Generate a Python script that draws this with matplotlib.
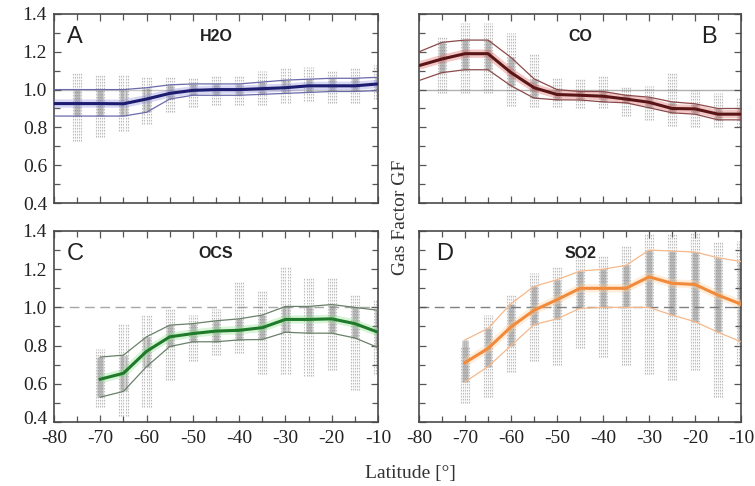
import matplotlib
matplotlib.use("Agg")
import matplotlib.pyplot as plt
import matplotlib.transforms as mtransforms
import numpy as np

# latitudes of the scatter columns
lat_a = [-75, -70, -65, -60, -55, -50, -45, -40, -35, -30, -25, -20, -15, -10]
lat_b = [-75, -70, -65, -60, -55, -50, -45, -40, -35, -30, -25, -20, -15, -10]
lat_c = [-70, -65, -60, -55, -50, -45, -40, -35, -30, -25, -20, -15, -10]
lat_d = [-70, -65, -60, -55, -50, -45, -40, -35, -30, -25, -20, -15, -10]

# scatter column ranges (min / max of the grey points)
lo_a = [0.73, 0.75, 0.78, 0.82, 0.88, 0.91, 0.92, 0.92, 0.92, 0.93, 0.94, 0.93, 0.93, 0.95]
hi_a = [1.09, 1.08, 1.08, 1.07, 1.07, 1.06, 1.07, 1.07, 1.10, 1.12, 1.12, 1.10, 1.12, 1.13]
lo_b = [0.98, 0.98, 0.98, 0.915, 0.91, 0.91, 0.90, 0.90, 0.86, 0.84, 0.81, 0.80, 0.80, 0.80]
hi_b = [1.28, 1.35, 1.35, 1.30, 1.19, 1.06, 1.06, 1.07, 1.02, 1.02, 1.09, 1.00, 0.98, 0.96]
lo_c = [0.48, 0.43, 0.48, 0.62, 0.72, 0.75, 0.76, 0.65, 0.65, 0.64, 0.67, 0.57, 0.65]
hi_c = [0.78, 0.92, 0.96, 0.99, 0.96, 0.99, 1.14, 1.09, 1.21, 1.16, 1.16, 1.07, 1.04]
lo_d = [0.50, 0.53, 0.66, 0.72, 0.70, 0.79, 0.74, 0.70, 0.65, 0.62, 0.67, 0.53, 0.70]
hi_d = [0.80, 0.96, 1.07, 1.18, 1.21, 1.27, 1.27, 1.32, 1.39, 1.39, 1.39, 1.35, 1.35]

# mean and +/- std lines
line_lat_ab = [-80, -75, -70, -65, -60, -55, -50, -45, -40, -35, -30, -25, -20, -15, -10]
line_lat_cd = [-70, -65, -60, -55, -50, -45, -40, -35, -30, -25, -20, -15, -10]

mean_a = [0.926, 0.926, 0.926, 0.925, 0.95, 0.98, 0.996, 1.0, 1.0, 1.005, 1.01, 1.02, 1.02, 1.02, 1.03]
up_a = [1.0, 1.0, 1.0, 1.0, 1.01, 1.025, 1.03, 1.03, 1.03, 1.04, 1.05, 1.055, 1.06, 1.06, 1.065]
dn_a = [0.86, 0.86, 0.86, 0.86, 0.88, 0.95, 0.97, 0.97, 0.97, 0.975, 0.98, 0.985, 0.99, 0.99, 0.995]

mean_b = [1.127, 1.162, 1.19, 1.19, 1.09, 1.01, 0.974, 0.97, 0.965, 0.95, 0.933, 0.90, 0.898, 0.87, 0.87]
up_b = [1.20, 1.25, 1.262, 1.262, 1.17, 1.057, 1.0, 0.99, 0.99, 0.97, 0.96, 0.935, 0.925, 0.90, 0.90]
dn_b = [1.048, 1.09, 1.105, 1.105, 1.02, 0.955, 0.946, 0.945, 0.935, 0.93, 0.904, 0.877, 0.87, 0.84, 0.84]

mean_c = [0.624, 0.655, 0.77, 0.846, 0.863, 0.876, 0.88, 0.894, 0.937, 0.937, 0.94, 0.915, 0.87]
up_c = [0.74, 0.75, 0.846, 0.907, 0.915, 0.93, 0.94, 0.96, 1.005, 1.005, 1.015, 1.0, 0.985]
dn_c = [0.53, 0.56, 0.69, 0.795, 0.82, 0.82, 0.83, 0.832, 0.87, 0.865, 0.865, 0.84, 0.79]

mean_d = [0.711, 0.785, 0.898, 0.985, 1.04, 1.10, 1.10, 1.10, 1.16, 1.126, 1.12, 1.064, 1.017]
up_d = [0.83, 0.89, 1.02, 1.11, 1.145, 1.19, 1.20, 1.22, 1.30, 1.295, 1.29, 1.26, 1.24]
dn_d = [0.61, 0.69, 0.80, 0.91, 0.94, 0.995, 1.0, 1.0, 1.0, 0.96, 0.925, 0.87, 0.82]

panels = [
    dict(letter="A", gas="H2O", lat=lat_a, lo=lo_a, hi=hi_a, llat=line_lat_ab,
         mean=mean_a, up=up_a, dn=dn_a, c_mean="#1c1c70", c_std="#6a6aaa",
         c_glow="#9090e0", ref_ls="-", ref_c="#c8c8c8", lx=-75.5),
    dict(letter="B", gas="CO", lat=lat_b, lo=lo_b, hi=hi_b, llat=line_lat_ab,
         mean=mean_b, up=up_b, dn=dn_b, c_mean="#5a1616", c_std="#8c4a4a",
         c_glow="#e06060", ref_ls="-", ref_c="#b0b0b0", lx=-17),
    dict(letter="C", gas="OCS", lat=lat_c, lo=lo_c, hi=hi_c, llat=line_lat_cd,
         mean=mean_c, up=up_c, dn=dn_c, c_mean="#1f7a2a", c_std="#6a806a",
         c_glow="#8ee08e", ref_ls=(0, (7, 4)), ref_c="#a8a8a8", lx=-75.5),
    dict(letter="D", gas="SO2", lat=lat_d, lo=lo_d, hi=hi_d, llat=line_lat_cd,
         mean=mean_d, up=up_d, dn=dn_d, c_mean="#f28a3c", c_std="#f6b88a",
         c_glow="#ffcf9a", ref_ls=(0, (7, 4)), ref_c="#808080", lx=-74.5),
]

fig = plt.figure(figsize=(7.55, 4.86), dpi=100)
boxes = [
    [0.0715, 0.5823, 0.4292, 0.3889],
    [0.5550, 0.5823, 0.4265, 0.3889],
    [0.0715, 0.1317, 0.4292, 0.3930],
    [0.5550, 0.1317, 0.4265, 0.3930],
]
serif = "Liberation Serif"
offsets = [-0.9, -0.45, 0.0, 0.45, 0.9]

for i, (p, box) in enumerate(zip(panels, boxes)):
    ax = fig.add_axes(box)
    ax.axhline(1.0, color=p["ref_c"], lw=1.0, ls=p["ref_ls"], zorder=1)

    # grey scatter columns
    for j, x in enumerate(p["lat"]):
        for off in offsets:
            ax.vlines(x + off, p["lo"][j], p["hi"][j], color="#7a7a7a",
                      lw=0.8, alpha=0.5, linestyles=(0, (1.5, 1.2)), zorder=2)
        # dense core between the std lines
        m = p["llat"].index(x)
        ax.vlines(np.array(offsets[1:4]) + x, p["dn"][m], p["up"][m],
                  color="#808080", lw=1.8, alpha=0.45, zorder=2)

    ax.plot(p["llat"], p["mean"], color=p["c_glow"], lw=6, alpha=0.35,
            solid_capstyle="butt", zorder=3)
    ax.plot(p["llat"], p["up"], color=p["c_std"], lw=0.9, zorder=4)
    ax.plot(p["llat"], p["dn"], color=p["c_std"], lw=0.9, zorder=4)
    ax.plot(p["llat"], p["mean"], color=p["c_mean"], lw=2.2, zorder=5)

    ax.set_xlim(-80, -10)
    ax.set_ylim(0.4, 1.4)
    ax.set_xticks(np.arange(-80, -9, 10))
    ax.set_xticks(np.arange(-75, -10, 10), minor=True)
    ax.set_yticks(np.arange(0.4, 1.41, 0.2))
    ax.set_yticks(np.arange(0.5, 1.4, 0.2), minor=True)
    ax.tick_params(which="both", direction="in", top=True, right=True,
                   color="#555555", width=0.9, labelcolor="#222222")
    ax.tick_params(which="major", length=5, labelsize=14)
    ax.tick_params(axis="x", which="major", pad=5.5)
    ax.tick_params(axis="y", which="major", pad=5)
    ax.tick_params(which="minor", length=4)
    for s in ax.spines.values():
        s.set_color("#4a4a4a")
        s.set_linewidth(1.2)

    if i % 2 == 0:
        ax.set_yticklabels(["0.4", "0.6", "0.8", "1.0", "1.2", "1.4"])
    else:
        ax.set_yticklabels([])
    if i >= 2:
        ax.set_xticklabels([str(v) for v in range(-80, -9, 10)])
    else:
        ax.set_xticklabels([])
    for lab in ax.get_xticklabels() + ax.get_yticklabels():
        lab.set_family(serif)
    if i == 2:
        # lift the bottom "0.4" a little, clear of "-80"
        lab = ax.get_yticklabels()[0]
        lab.set_transform(lab.get_transform() +
                          mtransforms.ScaledTranslation(0, 3 / 72, fig.dpi_scale_trans))

    ax.text(p["lx"], 1.28, p["letter"], fontsize=17, family="Liberation Sans",
            ha="center", va="center", color="#222222")
    ax.text(-45, 1.28, p["gas"], fontsize=11.5, fontweight="bold",
            family="Liberation Sans", ha="center", va="center", color="#222222")

fig.text(0.531, 0.552, "Gas Factor GF", rotation=90, ha="center", va="center",
         fontsize=14, family=serif, color="#333333")
fig.text(0.543, 0.025, "Latitude [°]", ha="center", va="center",
         fontsize=14, family=serif, color="#333333")

fig.savefig("out.png", dpi=100)
